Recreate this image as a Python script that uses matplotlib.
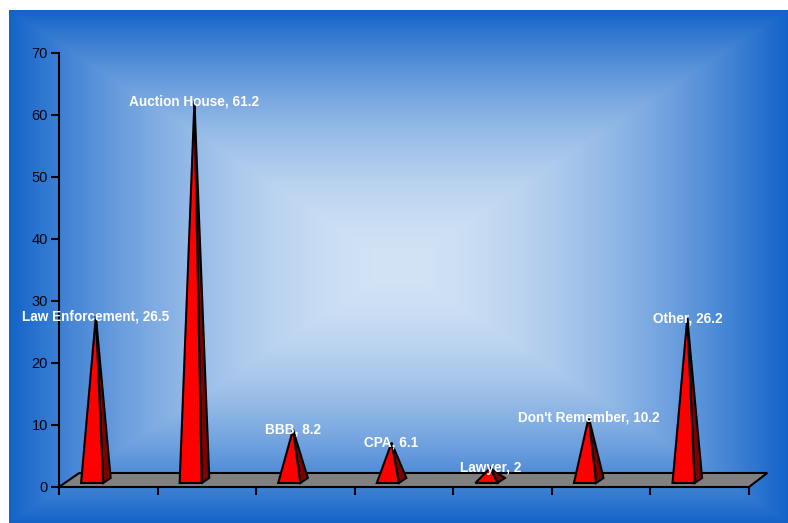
# -*- coding: utf-8 -*-
""" Pyramid chart of who people turned to, on a blue backdrop """
import numpy as np
import matplotlib
matplotlib.use("Agg")
import matplotlib.pyplot as plt
from matplotlib.patches import Polygon


# -----------------------------------------------------------------------------
# Data
# -----------------------------------------------------------------------------
categories = ["Law Enforcement", "Auction House", "BBB", "CPA", "Lawyer",
              "Don't Remember", "Other"]
values = [26.5, 61.2, 8.2, 6.1, 2, 10.2, 26.2]
value_labels = ["26.5", "61.2", "8.2", "6.1", "2", "10.2", "26.2"]
yticks = [0, 10, 20, 30, 40, 50, 60, 70]

# -----------------------------------------------------------------------------
# Globals
# -----------------------------------------------------------------------------
W, H = 788, 523
EDGE_BLUE = np.array([0x12, 0x63, 0xc9]) / 255.0
CENTER_BLUE = np.array([0xd2, 0xe3, 0xf5]) / 255.0

# floor depth and pyramid shape, in data units
FLOOR_DX, FLOOR_DY = 0.205, 2.26
BASE_LEFT, BASE_W = 0.224, 0.224
BASE_Y = 0.645
DEPTH_DX, DEPTH_DY = 0.076, 0.81


def gradient(h, w):
    """ Rectangular gradient: light in the middle, blue at the edges. """
    yy, xx = np.mgrid[0:h, 0:w]
    tx = np.abs(xx - (w - 1) / 2.0) / (w / 2.0)
    ty = np.abs(yy - (h - 1) / 2.0) / (h / 2.0)
    t = np.clip(np.maximum(tx, ty), 0, 1) ** 1.8
    t = t[..., None]
    return CENTER_BLUE * (1 - t) + EDGE_BLUE * t


fig = plt.figure(figsize=(W / 100.0, H / 100.0), dpi=100)
fig.patch.set_facecolor("white")

# backdrop
bg = fig.add_axes([9.0 / W, 0, 1 - 9.0 / W, 1 - 10.0 / H])
bg.imshow(gradient(H - 10, W - 9), aspect="auto", interpolation="bilinear")
bg.set_axis_off()

# plot area
left, right, top, bottom = 59, 749, 53, 487
ax = fig.add_axes([left / W, 1 - bottom / H, (right - left) / W,
                   (bottom - top) / H])
ax.set_facecolor("none")
ax.set_xlim(0, len(categories))
ax.set_ylim(0, 70)

# gray floor
n = len(categories)
floor = Polygon([(0, 0), (n, 0), (n + FLOOR_DX - 0.02, FLOOR_DY),
                 (FLOOR_DX, FLOOR_DY)], closed=True, facecolor="#808080",
                edgecolor="black", lw=1.5, clip_on=False, zorder=2)
ax.add_patch(floor)

for i, (cat, v, lab) in enumerate(zip(categories, values, value_labels)):
    fl = (i + BASE_LEFT, BASE_Y)
    fr = (i + BASE_LEFT + BASE_W, BASE_Y)
    br = (fr[0] + DEPTH_DX, BASE_Y + DEPTH_DY)
    apex = (i + BASE_LEFT + BASE_W / 2 + DEPTH_DX / 2,
            v + BASE_Y + DEPTH_DY / 2)
    side = Polygon([fr, br, apex], closed=True, facecolor="#800000",
                   edgecolor="black", lw=1.5, joinstyle="miter",
                   clip_on=False, zorder=3)
    front = Polygon([fl, fr, apex], closed=True, facecolor="#ff0000",
                    edgecolor="black", lw=1.5, joinstyle="miter",
                    clip_on=False, zorder=4)
    ax.add_patch(side)
    ax.add_patch(front)
    ax.text(apex[0], apex[1], "%s, %s" % (cat, lab), ha="center",
            va="center", color="white", fontsize=9.8, fontweight="bold",
            family="Liberation Sans", zorder=6, clip_on=False)

# axes styling
for s in ["top", "right"]:
    ax.spines[s].set_visible(False)
ax.spines["left"].set_linewidth(1.5)
ax.spines["bottom"].set_visible(False)
ax.set_yticks(yticks)
ax.set_xticks(range(n + 1))
ax.set_xticklabels([])
ax.tick_params(axis="both", direction="out", length=6, width=1.5,
               color="black")
ax.tick_params(axis="y", pad=2, labelsize=10.5, labelcolor="#050510")
for t in ax.get_yticklabels():
    t.set_family("Liberation Sans")

fig.savefig("out.png", dpi=100, facecolor=fig.get_facecolor())
